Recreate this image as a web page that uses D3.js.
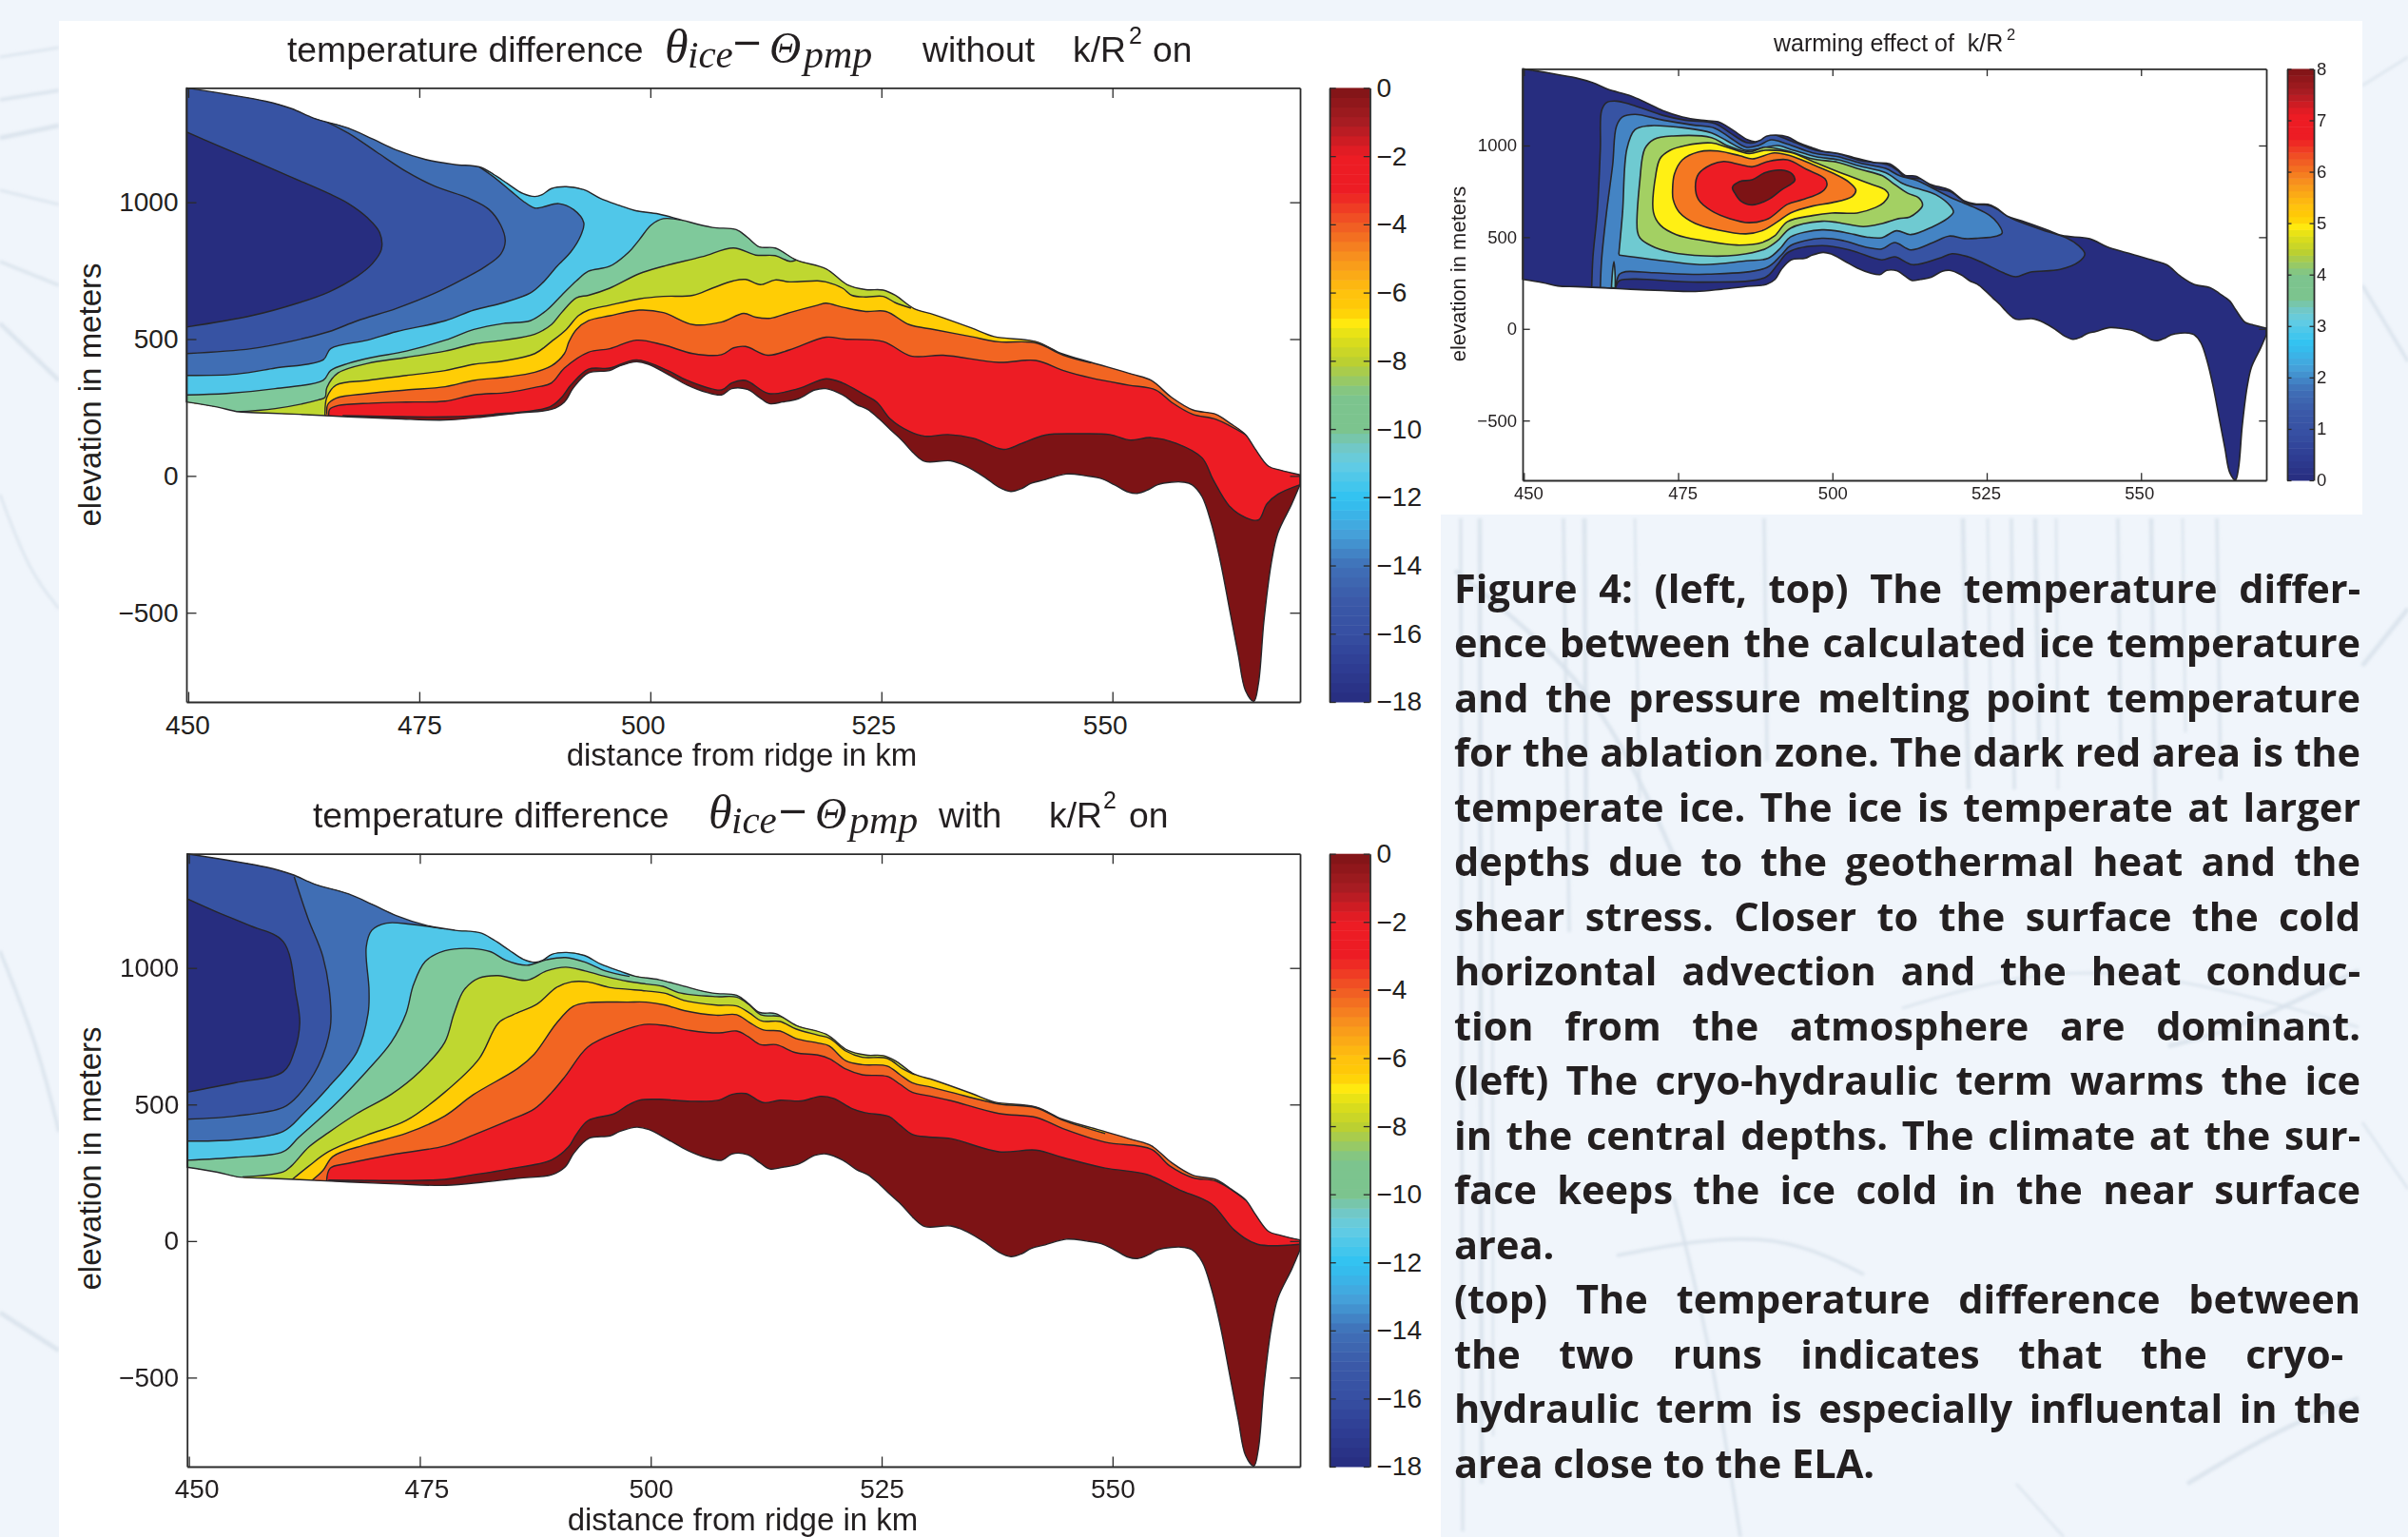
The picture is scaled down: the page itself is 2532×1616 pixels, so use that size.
<!DOCTYPE html>
<html>
<head>
<meta charset="utf-8">
<script src="https://cdnjs.cloudflare.com/ajax/libs/d3/7.8.5/d3.min.js"></script>
<style>
  html, body { margin: 0; padding: 0; background: #f0f5fb; }
  svg { display: block; }
  text { font-family: "Liberation Sans", Arial, sans-serif; fill: #231f20; white-space: pre; }
  .domain { stroke: #2b2b2b; stroke-width: 1.8; }
  .tick line { stroke: #2b2b2b; stroke-width: 1.3; }
</style>
</head>
<body>
<div id="chart"></div>
<script>
/* Data: all [km, elevation in meters] */

// Glacier outline, shared by the three panels
const surface = [[449.8,1418],[454.1,1395],[458.4,1369],[461.2,1342],[463.6,1307],[467.3,1271],[469.9,1232],[472.5,1191],[475.7,1156],[478.8,1138],[481.5,1129],[483,1103],[484.6,1067],[486.2,1032],[487.5,1021],[488.3,1028],[489.3,1050],[490.9,1057],[492.8,1046],[494.6,1014],[496.7,988],[498.3,970],[500.9,957],[503.5,934],[506.7,908],[509.3,900],[510.5,872],[511.8,837],[513.5,833],[515.8,789],[519,757],[521.3,699],[523.3,681],[525.2,679],[526.5,660],[528.5,612],[530.7,589],[534.7,541],[537.2,509],[541.7,491],[544.5,447],[547.7,415],[552.2,371],[554.2,349],[556.4,287],[558.7,241],[561.2,225],[562.7,193],[564.4,151],[565.4,101],[566.9,35],[568.2,21],[570.3,4]];
const bed = [[570.3,-32],[569.4,-103],[567.9,-209],[567.2,-316],[566.4,-528],[565.8,-759],[565.3,-824],[564.4,-785],[563.6,-652],[562.7,-493],[561.7,-316],[560.7,-174],[559.7,-76],[558.6,-32],[557.7,-23],[556.4,-23],[554.9,-32],[553.9,-50],[552.7,-64],[551.7,-59],[550.2,-32],[548.7,-9],[547.2,0],[545,7],[542.7,-14],[541.2,-27],[540.2,-46],[539,-57],[537.7,-41],[536.2,-5],[534.2,35],[532.5,55],[529.7,53],[528.5,83],[527.2,131],[526,168],[524.8,207],[523.5,243],[522.3,261],[520.8,296],[519,319],[517.8,314],[516,282],[514.3,270],[512.9,264],[511.8,287],[510.5,316],[508.8,319],[507.7,296],[506.1,305],[504,332],[501.9,371],[499.8,408],[498.5,417],[496.7,402],[495.6,385],[493.3,376],[491.7,323],[490.7,270],[489.3,243],[485.7,230],[482,216],[477.8,204],[472.5,209],[467.3,216],[462,225],[458.4,230],[455.5,234],[453.1,252],[449.8,270]];

// Upper panel, without k/R2: contour lines by level, warmest first
const aLevel0 = [[466.7,220],[477.8,216],[483,225],[489.1,252],[490.4,287],[491.4,332],[493.3,390],[495.6,394],[498.5,424],[501.9,385],[504,349],[507.7,314],[508.8,340],[510.3,349],[512.8,301],[516,319],[519,355],[520.8,340],[523,300],[524.5,270],[526,207],[528,163],[529.7,145],[532.2,151],[535,137],[538.2,97],[540.2,119],[542.7,149],[546.2,154],[549.7,151],[551.9,131],[554.2,140],[556.9,119],[559.7,66],[560.9,-14],[562.7,-112],[564.4,-152],[565.8,-161],[566.7,-103],[567.9,-67],[570.3,-32]];
const aLevel2 = [[465.2,220],[465.3,243],[466.2,257],[469.9,266],[473.6,270],[477.8,273],[480.9,296],[484.6,305],[487.5,323],[489.3,340],[490.7,394],[493.3,452],[495.6,465],[498.5,496],[501.4,479],[504.6,447],[507.7,443],[509,468],[510.3,473],[512.7,441],[515.1,461],[519,507],[521,500],[525.2,491],[528.2,438],[531.7,441],[537.7,415],[541.7,422],[544.7,385],[547.7,358],[551.7,332],[554.7,314],[556.4,269],[558.7,225],[561.2,207],[564.4,151]];
const aLevel4 = [[465,225],[465.1,261],[466,284],[469.4,301],[473.6,314],[477.8,326],[480.9,349],[484.6,362],[487.5,379],[489.3,402],[490.7,447],[491.2,491],[492,535],[493.3,567],[495.6,585],[498.8,606],[501.4,597],[504.6,553],[507.7,562],[510.1,594],[511.4,580],[513,576],[515.1,597],[518.1,624],[519,631],[521,615],[523.3,601],[525.5,601],[528,553],[530.7,535],[534.7,509],[537.7,490],[541.7,486],[544.7,441],[547.7,413]];
const aLevel6 = [[464.8,220],[465,287],[466,332],[469.4,349],[473.6,367],[477.8,385],[480.9,408],[484.1,420],[487.5,447],[489.3,491],[490.9,535],[492.2,585],[493.3,606],[495.6,624],[498.8,647],[501.4,656],[504.6,660],[506.7,686],[509,713],[510.3,718],[511.9,699],[513.5,716],[515.1,709],[518.1,713],[519,709],[520.8,686],[521.8,660],[523.3,654],[525.2,656],[526.5,633],[528.2,613]];
const aLevel8 = [[455,234],[459.4,246],[464.1,278],[464.8,287],[465,323],[466.2,376],[469.4,411],[473.6,433],[477.8,456],[480.9,482],[484.1,496],[487.5,518],[489.3,553],[490.4,597],[492,651],[493.3,660],[495.6,686],[498.8,739],[501.4,766],[505.6,801],[509,833],[511.4,807],[513.5,805],[515.1,784],[515.8,789]];
const aLevel10 = [[449.8,296],[454.1,301],[459.4,319],[464.6,349],[465.4,385],[467.3,411],[469.9,433],[473.6,456],[477.8,496],[480.9,535],[484.1,557],[487,567],[488.8,606],[490.4,660],[492,713],[493.3,748],[495.6,766],[497.7,819],[498.8,863],[500.1,917],[501.4,940],[503.5,934]];
const aLevel12 = [[449.8,367],[455.2,372],[459.4,394],[464.6,424],[465.4,465],[469.4,496],[472.5,527],[477.8,567],[480.9,606],[484.1,633],[487,668],[488.3,704],[489.9,766],[491.4,819],[492.5,881],[492.8,925],[491.7,973],[490.1,995],[488.3,982],[487.5,979],[486.2,1005],[484.9,1041],[483,1094],[481.5,1129]];
const aLevel14 = [[449.8,447],[456.8,465],[461,491],[465.2,527],[468.3,567],[472.5,612],[476.7,668],[479.9,722],[482,762],[483.8,810],[484.3,858],[483.8,917],[482.5,975],[480.4,1014],[476.7,1058],[473.6,1112],[470.4,1183],[467.3,1253],[464.1,1307],[462,1333],[461,1347]];
const aLevel16 = [[449.8,544],[456.8,585],[462,633],[465.2,672],[468.3,730],[469.9,775],[470.9,828],[470.7,890],[469.4,943],[467.3,996],[465.2,1032],[461,1094],[456.8,1156],[453.1,1209],[449.8,1257]];

// Lower panel, with k/R2
const bLevel0 = [[465.1,223],[477.7,226],[480.3,240],[484.5,263],[489.3,298],[491.1,345],[491.9,388],[493.2,441],[496.1,467],[497.5,497],[498.8,516],[500.9,519],[504.3,512],[507.4,516],[508.8,537],[510.3,540],[512.2,507],[514,516],[516.3,513],[518.4,530],[519.8,522],[521.8,485],[523.2,470],[525.8,456],[527,424],[528.3,391],[530.1,381],[532.5,375],[537.7,327],[541.7,333],[544.7,305],[549.2,267],[553.7,244],[557.2,188],[560.7,136],[563.2,40],[565.7,-12],[570.2,-12]];
const bLevel2 = [[464.9,219],[465.3,267],[467.2,284],[472.4,319],[477.7,348],[480.8,388],[484.6,441],[487.4,484],[489.3,545],[490.8,606],[493.2,711],[496.6,766],[499.3,793],[501.6,789],[504.3,771],[507.4,762],[509.3,769],[510.5,750],[511.9,719],[513.6,719],[515.7,690],[518.1,681],[519.4,667],[521.1,630],[522.9,609],[525.6,603],[527,574],[528.3,545],[530.4,530],[532.5,514],[537.7,467],[541.7,453],[544.7,411],[549.2,362],[554.2,336],[556.2,275],[558.7,232],[561.2,219],[564.4,150]];
const bLevel4 = [[463.2,219],[464.5,258],[465.6,310],[469.3,354],[473.5,394],[477.7,458],[480.8,536],[485.6,632],[487.4,685],[489.8,798],[491.6,859],[493.2,873],[497.5,875],[499.5,875],[501.6,864],[503.6,844],[507.1,827],[509.3,829],[510.7,800],[512.2,773],[514,769],[515.7,742],[518.1,725],[519.3,715],[521.1,661],[522.9,646],[525.6,641],[527,609],[528.3,580],[530.4,563],[532.5,545],[537.7,502],[541.7,488],[544.7,441],[549.2,394]];
const bLevel6 = [[461.1,223],[463,275],[465.1,327],[469.3,388],[473.5,441],[477.7,545],[481.4,667],[483.5,798],[485.1,829],[487.7,868],[489.8,929],[491.4,949],[493.2,949],[495.6,928],[497.5,922],[499.5,916],[501.6,907],[503.6,881],[507.1,864],[509.3,861],[510.7,835],[512,806],[514,804],[515.7,777],[518.1,754],[519.4,742],[521.1,696],[522.9,673],[525.6,669],[527.3,630],[528.6,609]];
const bLevel8 = [[455.8,235],[460.2,253],[461.1,275],[463,345],[465.1,397],[468.2,467],[471.9,537],[475.1,624],[477.7,728],[478.7,833],[479.8,920],[481.4,963],[483.5,972],[486.6,955],[488.7,989],[490.8,1003],[492.9,989],[495.1,969],[497.5,951],[499.5,941],[501.3,933],[503,910],[507.1,895],[509.3,893],[510.7,864],[511.9,829],[514,823],[514.8,812]];
const bLevel10 = [[449.8,296],[455.1,307],[460.2,327],[461.9,380],[465.6,493],[469.3,624],[471.9,728],[473.5,833],[474.3,937],[475.6,1024],[477.7,1063],[480.8,1071],[482.7,1059],[484.3,1028],[486.6,1010],[488.7,1030],[490.8,1038],[492.9,1021],[495.1,989],[497.7,969]];
const bLevel12 = [[449.8,366],[455.1,371],[460.2,401],[462.4,467],[465.1,563],[468.2,693],[469.4,833],[469.5,920],[469.2,1077],[469.8,1138],[471.4,1164],[474,1160],[477.7,1143]];
const bLevel14 = [[449.8,446],[455.1,458],[460.2,489],[461.9,536],[464,641],[465.3,780],[465.3,885],[464.5,1042],[462.9,1181],[461.4,1334]];
const bLevel16 = [[449.8,545],[455.1,580],[460.2,620],[461.4,693],[462,798],[461.6,902],[460.2,1097],[456.6,1155],[452.9,1207],[449.8,1254]];

// Top right panel, warming effect: contour lines by level, coolest first
const cLevel1 = [[461,225],[461.2,393],[461.9,636],[462.4,982],[462.6,1190],[463.4,1234],[465,1242],[467.5,1222],[472.6,1164],[476.2,1138],[480.9,1121],[483.4,1069],[486,1017],[487.5,1017],[489.1,1052],[490.6,1057],[493.2,1026],[497.3,974],[500.9,956],[504.5,918],[508.9,896],[510.7,861],[511.7,826],[514.3,818],[516.8,766],[519.1,748],[522,684],[525.6,670],[529.1,602],[534,540],[537.9,496],[539.9,453],[540.9,409],[539.9,365],[536.9,324],[532,309],[529.7,284],[527.6,307],[524.5,358],[522,393],[519.4,410],[517.3,385],[513,350],[510.1,393],[508,376],[503,428],[498.3,454],[492.9,419],[491.1,350],[489.1,280],[478.8,255],[465.5,263],[465,237],[464.8,220]];
const cLevel2 = [[462.4,225],[462.6,376],[463.4,636],[464.4,896],[465,1104],[466,1156],[468,1170],[472.6,1138],[477.3,1112],[480.9,1095],[483.4,1043],[486,991],[488,1000],[490.1,1031],[492.7,1008],[496.8,960],[500.9,939],[504.5,904],[508.6,875],[510.9,835],[513.7,809],[516.8,757],[519.9,705],[523,662],[525.5,618],[526.8,575],[527.5,523],[526.6,506],[523.5,494],[521.4,492],[518.9,506],[516.3,471],[512.7,431],[510.1,471],[508,436],[505.5,445],[501.9,480],[498.3,494],[493.2,454],[491.7,402],[489.3,333],[479.8,298],[471.1,306],[466.5,312],[465.5,298],[465,255],[464.8,220]];
const cLevel3 = [[465.4,410],[466,636],[466.7,982],[468,1086],[470.1,1107],[476.2,1095],[480.4,1069],[482.9,1026],[486,974],[488.6,986],[491.1,1000],[493.7,974],[497.3,939],[500.9,922],[504.5,887],[508.6,852],[511.4,792],[513.7,766],[516.8,731],[519.1,670],[519.6,636],[518.6,601],[516.3,558],[512.7,514],[510.4,535],[508,497],[505.5,501],[501.9,527],[498.3,540],[493.2,501],[491.7,445],[489.6,385],[486,371],[479.3,350],[473.7,367],[465.5,402]];
const cSlit = [[464.2,225],[464.4,324],[464.6,367],[464.8,289],[464.8,222]];
const cLevel4 = [[468.4,532],[468.8,809],[469.6,982],[471.1,1034],[474.2,1052],[480.4,1043],[482.9,1000],[486.5,965],[489.1,991],[492.7,970],[496.8,927],[500.9,908],[504.5,870],[508.1,835],[509.6,800],[512.2,740],[514,714],[514.6,674],[513.7,636],[512.5,610],[510.7,601],[508.1,575],[505,558],[500.9,580],[498.3,587],[493.2,549],[491.1,480],[489.1,436],[484.5,402],[479.3,398],[473.7,419],[470.6,454],[468.8,497]];
const cLevel5 = [[471,636],[471.4,844],[472.1,930],[473.7,974],[476.2,1000],[480.4,1014],[482.9,991],[486.5,956],[489.1,974],[493.2,962],[496.8,913],[501.9,844],[506,792],[508.6,757],[509.1,731],[508.3,688],[507,662],[504,632],[499.9,632],[496.8,618],[492.7,584],[490.6,506],[488.6,471],[484.5,457],[479.3,480],[474.7,514],[472.1,566]];
const cLevel6 = [[474.1,757],[474.4,844],[475.7,922],[478.3,965],[481.4,970],[485,944],[487,927],[490.6,960],[493.2,944],[496.8,896],[500.4,844],[502.7,800],[503.8,757],[503.2,722],[499.9,688],[496.8,670],[493.2,632],[491.1,584],[488.6,535],[486,518],[481.4,540],[477.8,575],[475.2,636],[474.2,705]];
const cLevel7 = [[477.8,774],[478.3,844],[480.4,896],[482.4,913],[485,896],[487,884],[489.6,913],[492.7,922],[495.8,870],[498.8,818],[499.1,783],[498.3,748],[495.2,705],[492.7,679],[489.6,601],[486.5,579],[483.4,601],[480.4,644],[478.3,705]];
const cLevel8 = [[483.8,771],[485,804],[487,813],[489.1,852],[491.7,866],[493.5,844],[493.9,809],[491.7,757],[489.6,705],[487,676],[485.2,696],[484.2,740]];

// Ticks
const xTicks = [450, 475, 500, 525, 550];
const yTicks = [-500, 0, 500, 1000];
const barTicksLeft = [0, -2, -4, -6, -8, -10, -12, -14, -16, -18];
const barTicksTop = [0, 1, 2, 3, 4, 5, 6, 7, 8];

// Colours: contour fills from coldest to warmest
const fillNavy = "#272d7f", fillBlue = "#3753a3", fillSteel = "#406eb4", fillCyan = "#50c7e9",
  fillGreen = "#7fc99b", fillLime = "#bfd730", fillYellow = "#ffcd05", fillOrange = "#f26522",
  fillRed = "#ed1c24", fillDark = "#7d1315";

// Colorbar ramp, position 0 (bottom) to 1 (top)
const rampStops = [0, .055, .111, .167, .222, .278, .333, .389, .417, .444, .5, .556, .6, .611, .639, .667, .722, .778, .833, .889, .944, 1];
const rampColors = ["#272d7f", "#2e3c92", "#364fa2", "#3b5aa8", "#4071b8", "#45a4dc", "#30c3f2", "#65cce3", "#72c8c4", "#7cc48e", "#7cc48e", "#bdd02f", "#e5e115", "#fff212", "#ffcb05", "#ffc20e", "#f7941d", "#f15a24", "#ed1c24", "#ed1c24", "#a81c22", "#7e1416"];

// Caption lines
const captionLines = [
  "Figure 4: (left, top) The temperature differ-",
  "ence between the calculated ice temperature",
  "and the pressure melting point temperature",
  "for the ablation zone. The dark red area is the",
  "temperate ice. The ice is temperate at larger",
  "depths due to the geothermal heat and the",
  "shear stress. Closer to the surface the cold",
  "horizontal advection and the heat conduc-",
  "tion from the atmosphere are dominant.",
  "(left) The cryo-hydraulic term warms the ice",
  "in the central depths. The climate at the sur-",
  "face keeps the ice cold in the near surface",
  "area.",
  "(top) The temperature difference between",
  "the two runs indicates that the cryo-",
  "hydraulic term is especially influental in the",
  "area close to the ELA."
];
const captionUnjustified = [12, 16];

// Faint streaks of the page background, picture pixels
const streaksBack = [
  [[0,60],[62,50]],[[0,105],[62,95]],[[0,145],[62,132]],[[0,200],[62,215]],[[0,275],[62,300]],[[0,340],[62,400]],
  [[0,520],[30,600],[62,640]],[[0,1000],[40,1100],[62,1190]],[[0,1380],[62,1420]],
  [[2484,90],[2532,60]],[[2484,300],[2532,380]],[[2484,700],[2532,640]],[[2484,1180],[2532,1250]],
  [[1536,545],[1538,1610]],[[1556,545],[1558,1560]],[[1569,800],[1570,1510]],[[1644,545],[1650,980]],[[1666,545],[1668,900]],[[1719,545],[1724,840]],[[1855,545],[1858,800]],
  [[2064,545],[2070,830]],[[2090,545],[2094,800]],[[2115,545],[2118,830]],[[2140,545],[2144,780]],[[2162,545],[2164,830]],[[2227,545],[2230,790]],[[2262,545],[2266,850]],[[2295,545],[2298,770]],[[2331,545],[2335,820]],
  [[1530,600],[1680,720],[1760,900]],[[2000,1060],[2200,1000],[2480,1080]],[[1700,1320],[1860,1290],[1960,1340]],[[2300,1560],[2400,1500],[2480,1470]],[[2120,1560],[2170,1616]],
  [[1760,1260],[1800,1420],[1830,1616]],[[2280,1100],[2360,1080],[2480,1020]]
];

/* Dynamic Functions */
const width = 2532, height = 1616;

var svg = d3.select("#chart").append("svg")
  .attr("width", width)
  .attr("height", height);

function drawBackground() {
  // Page tint, streaks, then the white sheets carrying the plots
  svg.append("filter").attr("id", "soft").append("feGaussianBlur").attr("stdDeviation", 1.4);

  let streakLine = d3.line().curve(d3.curveBasis);
  svg.append("g").attr("filter", "url(#soft)").selectAll("path").data(streaksBack).join("path")
    .attr("d", d => streakLine(d))
    .attr("fill", "none")
    .attr("stroke", "#d6e0ea")
    .attr("stroke-width", (d, i) => 2.5 + (i % 3))
    .attr("opacity", .8);

  svg.append("rect").attr("x", 62).attr("y", 22).attr("width", 1453).attr("height", 1594).attr("fill", "#fff");
  svg.append("rect").attr("x", 1515).attr("y", 22).attr("width", 969).attr("height", 519).attr("fill", "#fff");
}

function runText(g, run) {
  // One piece of a title: [string, x, baseline, size, style]
  let families = { math: '"Liberation Serif", serif', op: '"DejaVu Sans", sans-serif' };
  g.append("text")
    .attr("x", run[1])
    .attr("y", run[2])
    .attr("font-size", run[3])
    .style("font-family", run[4] ? families[run[4]] : null)
    .style("font-style", run[4] == "math" ? "italic" : null)
    .text(run[0]);
}

function drawPanel(dim) {
  var g = svg.append("g");

  var x = d3.scaleLinear().domain([449.8, 570.3]).range([dim.left, dim.right]);
  var y = d3.scaleLinear().domain([-826, 1418]).range([dim.bottom, dim.top]);

  var line = d3.line().x(d => x(d[0])).y(d => y(d[1])).curve(d3.curveCatmullRom.alpha(.5));
  var loop = d3.line().x(d => x(d[0])).y(d => y(d[1])).curve(d3.curveCatmullRomClosed.alpha(.5));

  // Outline, used both as the base fill and as the clip
  var outline = line(surface) + "L" + line(bed).slice(1) + "Z";
  svg.append("clipPath").attr("id", dim.id).append("path").attr("d", outline);
  g.append("path").attr("d", outline).attr("fill", dim.base);

  var marks = g.append("g").attr("clip-path", "url(#" + dim.id + ")");
  dim.levels.forEach(function(level) {
    let pts = level.pts;
    let edge;
    let shape;
    if (level.kind == "open") {
      // Colder side is up and left: close it outside the glacier, the clip trims it
      let last = pts[pts.length - 1];
      edge = line(pts);
      shape = edge + "L" + x(last[0]) + "," + y(1600) + "L" + x(445) + "," + y(1600)
        + "L" + x(445) + "," + y(pts[0][1] - 30) + "Z";
    } else if (level.kind == "loop") {
      edge = loop(pts);
      shape = edge;
    } else {
      edge = line(pts) + "Z";
      shape = edge;
    }
    marks.append("path").attr("d", shape).attr("fill", level.fill);
    marks.append("path").attr("d", edge).attr("fill", "none")
      .attr("stroke", "#26262a").attr("stroke-width", dim.lineWidth).attr("stroke-linejoin", "round");
  });

  g.append("path").attr("d", outline).attr("fill", "none")
    .attr("stroke", "#26262a").attr("stroke-width", dim.lineWidth).attr("stroke-linejoin", "round");

  /* Axes, ticks inside on all four sides */
  var fmt = d3.format("d");
  let bottom = g.append("g").attr("transform", "translate(0," + dim.bottom + ")")
    .call(d3.axisBottom(x).tickValues(xTicks).tickSize(-dim.tick).tickSizeOuter(0).tickPadding(0).tickFormat(fmt));
  bottom.selectAll("text")
    .attr("font-size", dim.tickFont)
    .attr("dy", null)
    .attr("y", dim.xTickBase - dim.bottom)
    .attr("x", (d, i) => dim.xLabelShift[i]);
  g.append("g").attr("transform", "translate(0," + dim.top + ")")
    .call(d3.axisTop(x).tickValues(xTicks).tickSize(-dim.tick).tickSizeOuter(0).tickFormat(""));
  let left = g.append("g").attr("transform", "translate(" + dim.left + ",0)")
    .call(d3.axisLeft(y).tickValues(yTicks).tickSize(-dim.tick).tickSizeOuter(0).tickPadding(dim.tickPad).tickFormat(fmt));
  left.selectAll("text").attr("font-size", dim.tickFont);
  g.append("g").attr("transform", "translate(" + dim.right + ",0)")
    .call(d3.axisRight(y).tickValues(yTicks).tickSize(-dim.tick).tickSizeOuter(0).tickFormat(""));
  g.selectAll(".domain").attr("fill", "none");

  /* Colorbar */
  var barY = d3.scaleLinear().domain(dim.barDomain).range([dim.bottom, dim.top]);
  var ramp = d3.scaleLinear().domain(rampStops).range(rampColors);
  var bands = d3.range(64);
  g.append("g").selectAll("rect").data(bands).join("rect")
    .attr("x", dim.barLeft)
    .attr("width", dim.barRight - dim.barLeft)
    .attr("y", d => dim.top + (dim.bottom - dim.top) * (63 - d) / 64)
    .attr("height", (dim.bottom - dim.top) / 64 + .5)
    .attr("fill", d => ramp((d + .5) / 64));
  let barR = g.append("g").attr("transform", "translate(" + dim.barRight + ",0)")
    .call(d3.axisRight(barY).tickValues(dim.barTicks).tickSize(-dim.barTick).tickSizeOuter(0).tickPadding(dim.barPad).tickFormat(fmt));
  barR.selectAll("text").attr("font-size", dim.tickFont);
  g.append("g").attr("transform", "translate(" + dim.barLeft + ",0)")
    .call(d3.axisLeft(barY).tickValues(dim.barTicks).tickSize(-dim.barTick).tickSizeOuter(0).tickFormat(""));
  g.selectAll(".domain").attr("fill", "none");

  /* Titles */
  g.append("text")
    .attr("transform", "translate(" + dim.yLabelX + "," + dim.yLabelY + ") rotate(-90)")
    .attr("text-anchor", "middle")
    .attr("dominant-baseline", "middle")
    .attr("font-size", dim.labelFont)
    .text("elevation in meters");
  if (dim.xLabelBase) {
    g.append("text")
      .attr("x", dim.xLabelX)
      .attr("y", dim.xLabelBase)
      .attr("text-anchor", "middle")
      .attr("font-size", dim.labelFont)
      .text("distance from ridge in km");
  }
  dim.title.forEach(run => runText(g, run));
}

function drawCaption() {
  // Justified by word spacing, measured per line
  var caption = svg.append("g");
  captionLines.forEach(function(item, i) {
    let t = caption.append("text")
      .attr("x", 1529)
      .attr("y", 633.5 + i * 57.5)
      .attr("font-size", 41.5)
      .style("font-family", '"Open Sans", sans-serif')
      .style("font-weight", 700)
      .text(item);
    if (captionUnjustified.indexOf(i) < 0) {
      let target = i == 14 ? 935 : 953;
      let gaps = item.split(" ").length - 1;
      let extra = (target - t.node().getComputedTextLength()) / gaps;
      t.style("word-spacing", extra + "px");
    }
  });
}

/* Main */
function makeGraph() {
  drawBackground();

  var upper = {
    id: "clipUpper", left: 196, right: 1367, top: 92.4, bottom: 738, base: fillDark,
    levels: [
      { pts: aLevel0, fill: fillRed, kind: "open" }, { pts: aLevel2, fill: fillOrange, kind: "open" },
      { pts: aLevel4, fill: fillYellow, kind: "open" }, { pts: aLevel6, fill: fillLime, kind: "open" },
      { pts: aLevel8, fill: fillGreen, kind: "open" }, { pts: aLevel10, fill: fillCyan, kind: "open" },
      { pts: aLevel12, fill: fillSteel, kind: "open" }, { pts: aLevel14, fill: fillBlue, kind: "open" },
      { pts: aLevel16, fill: fillNavy, kind: "open" }
    ],
    lineWidth: 1.4, tick: 10.5, tickFont: 28, tickPad: 8.5, labelFont: 33,
    xTickBase: 772, xLabelShift: [-1, 0, -8, -8.5, -8], xLabelBase: 805, xLabelX: 780,
    yLabelX: 97, yLabelY: 415,
    barLeft: 1398, barRight: 1440.5, barDomain: [-18, 0], barTicks: barTicksLeft, barTick: 6.7, barPad: 7,
    title: [
      ["temperature difference", 302, 65, 37.3], ["θ", 699, 66, 50, "math"], ["ice", 723, 71, 41, "math"],
      ["−", 769, 58, 40, "op"], ["Θ", 809, 66, 46, "math"], ["pmp", 845, 71, 42, "math"],
      ["without", 970, 65, 37.3], ["k/R", 1128, 65, 37.3], ["2", 1187, 45.5, 25], ["on", 1212, 65, 37.3]
    ]
  };
  drawPanel(upper);

  var lower = {
    id: "clipLower", left: 196.7, right: 1367, top: 897.7, bottom: 1542, base: fillDark,
    levels: [
      { pts: bLevel0, fill: fillRed, kind: "open" }, { pts: bLevel2, fill: fillOrange, kind: "open" },
      { pts: bLevel4, fill: fillYellow, kind: "open" }, { pts: bLevel6, fill: fillLime, kind: "open" },
      { pts: bLevel8, fill: fillGreen, kind: "open" }, { pts: bLevel10, fill: fillCyan, kind: "open" },
      { pts: bLevel12, fill: fillSteel, kind: "open" }, { pts: bLevel14, fill: fillBlue, kind: "open" },
      { pts: bLevel16, fill: fillNavy, kind: "open" }
    ],
    lineWidth: 1.4, tick: 10.5, tickFont: 28, tickPad: 8.5, labelFont: 33,
    xTickBase: 1575, xLabelShift: [8, 7, 0, 0, 0], xLabelBase: 1609, xLabelX: 781,
    yLabelX: 97, yLabelY: 1218,
    barLeft: 1398, barRight: 1440.5, barDomain: [-18, 0], barTicks: barTicksLeft, barTick: 6.7, barPad: 7,
    title: [
      ["temperature difference", 329, 870, 37.3], ["θ", 745, 871, 50, "math"], ["ice", 769, 876, 41, "math"],
      ["−", 817, 866, 40, "op"], ["Θ", 857, 871, 46, "math"], ["pmp", 893, 876, 42, "math"],
      ["with", 987, 870, 37.3], ["k/R", 1103, 870, 37.3], ["2", 1160, 850, 25], ["on", 1187, 870, 37.3]
    ]
  };
  drawPanel(lower);

  var warming = {
    id: "clipWarm", left: 1601, right: 2383, top: 72.4, bottom: 505, base: fillNavy,
    levels: [
      { pts: cLevel1, fill: fillBlue, kind: "shape" }, { pts: cLevel2, fill: "#4484c4", kind: "shape" },
      { pts: cSlit, fill: "#6fcad1", kind: "shape" }, { pts: cLevel3, fill: "#6fcad1", kind: "shape" },
      { pts: cLevel4, fill: "#a3d063", kind: "loop" }, { pts: cLevel5, fill: "#fff014", kind: "loop" },
      { pts: cLevel6, fill: "#f57822", kind: "loop" }, { pts: cLevel7, fill: fillRed, kind: "loop" },
      { pts: cLevel8, fill: fillDark, kind: "loop" }
    ],
    lineWidth: 1.6, tick: 7.7, tickFont: 18.5, tickPad: 6, labelFont: 22,
    xTickBase: 525, xLabelShift: [4.6, 4.6, 0, -1, -2],
    yLabelX: 1535, yLabelY: 288,
    barLeft: 2405, barRight: 2433, barDomain: [0, 8], barTicks: barTicksTop, barTick: 4.5, barPad: 3,
    title: [["warming effect of  k/R", 1865, 54, 25], ["2", 2110, 42, 16.5]]
  };
  drawPanel(warming);

  drawCaption();
}

makeGraph();
</script>
</body>
</html>
